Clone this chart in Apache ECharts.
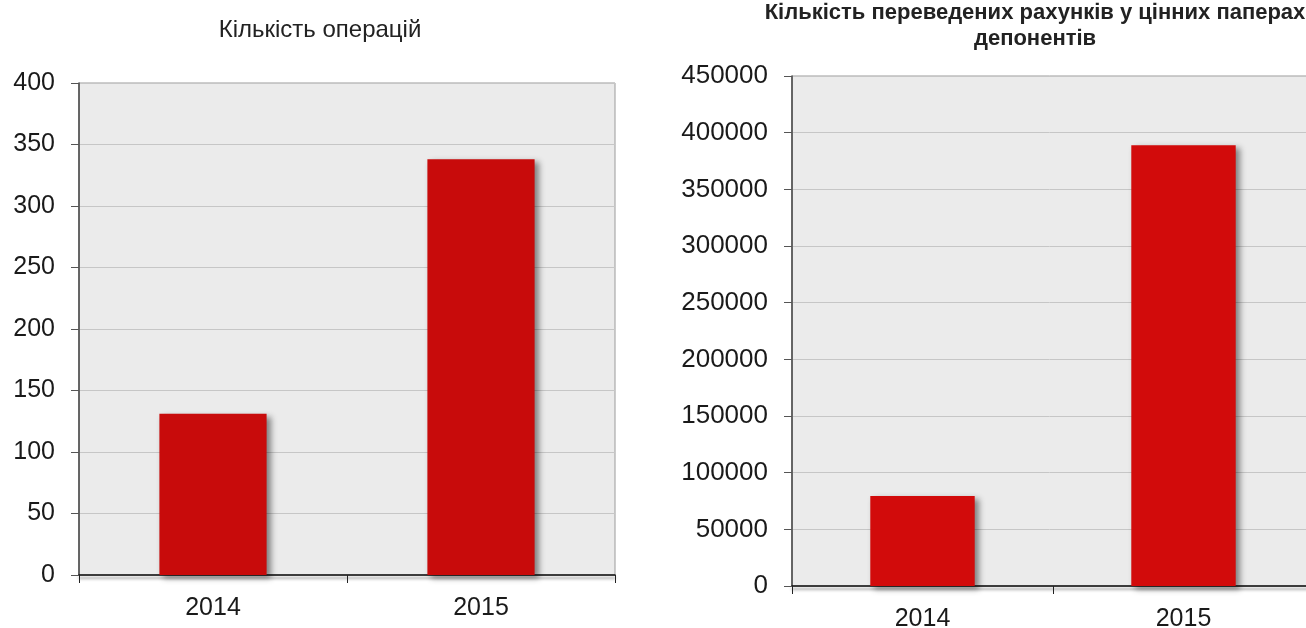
<!DOCTYPE html>
<html>
<head>
<meta charset="utf-8">
<script src="https://cdn.jsdelivr.net/npm/echarts@6/dist/echarts.min.js"></script>
<style>
  html, body { margin: 0; padding: 0; background: #fff; }
  #chart { width: 1306px; height: 628px; }
</style>
</head>
<body>
<div id="chart"></div>
<script>
const years = ['2014', '2015']
const operations = [131, 338]
const accounts = [79500, 389000]

const titleLeft = 'Кількість операцій'
const titleRight = 'Кількість переведених рахунків у цінних паперах\nдепонентів'

const chart = echarts.init(document.getElementById('chart'))

const FONT = 'Liberation Sans, Arial'

// shared axis styles
function catAxis(gridIndex) {
  return {
    type: 'category',
    gridIndex,
    data: years,
    axisLine: {
      lineStyle: { color: '#111', width: 1.5, shadowColor: 'rgba(0,0,0,0.45)', shadowBlur: 3, shadowOffsetY: 3 }
    },
    axisTick: { show: true, length: 8, lineStyle: { color: '#222' } },
    axisLabel: { fontFamily: FONT, fontSize: 25, color: '#1a1a1a', margin: 21 }
  }
}

function valAxis(gridIndex, max, interval, fontSize) {
  return {
    type: 'value',
    gridIndex,
    min: 0,
    max,
    interval,
    axisLine: { show: true, lineStyle: { color: '#444', width: 1.5 } },
    axisTick: { show: true, length: 8, lineStyle: { color: '#555' } },
    axisLabel: { fontFamily: FONT, fontSize, color: '#1a1a1a', margin: 24, formatter: v => String(v) },
    splitLine: { lineStyle: { color: '#c6c6c6', width: 1 } }
  }
}

const barStyle = color => ({
  color,
  shadowColor: 'rgba(0,0,0,0.45)',
  shadowBlur: 6,
  shadowOffsetX: 4,
  shadowOffsetY: 3
})

chart.setOption({
  animation: false,
  title: [
    {
      text: titleLeft,
      left: 315,
      top: 13,
      textAlign: 'center',
      textStyle: { fontFamily: FONT, fontSize: 24, fontWeight: 'normal', color: '#222' }
    },
    {
      text: titleRight,
      left: 1030,
      top: -5,
      textAlign: 'center',
      textStyle: {
        fontFamily: FONT,
        fontSize: 22,
        fontWeight: 'bold',
        color: '#222',
        lineHeight: 26
      }
    }
  ],
  grid: [
    { left: 79, top: 83, width: 536, height: 492, show: true, backgroundColor: '#ebebeb', borderColor: '#9a9a9a', borderWidth: 1 },
    // the right plot runs past the window edge, as in the source
    { left: 792, top: 76, width: 522, height: 510, outerBoundsMode: 'none', show: true, backgroundColor: '#ebebeb', borderColor: '#9a9a9a', borderWidth: 1 }
  ],
  xAxis: [catAxis(0), catAxis(1)],
  yAxis: [valAxis(0, 400, 50, 25), valAxis(1, 450000, 50000, 26)],
  series: [
    {
      type: 'bar',
      xAxisIndex: 0,
      yAxisIndex: 0,
      data: operations,
      barWidth: '40%',
      itemStyle: barStyle('#c80b0b')
    },
    {
      type: 'bar',
      xAxisIndex: 1,
      yAxisIndex: 1,
      data: accounts,
      barWidth: '40%',
      itemStyle: barStyle('#d20b0b')
    }
  ]
})
</script>
</body>
</html>
